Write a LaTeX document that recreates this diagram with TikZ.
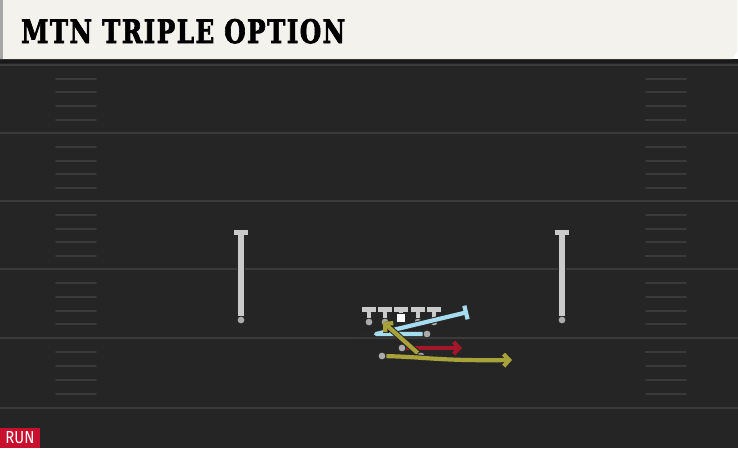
\documentclass[tikz,border=0pt]{standalone}
\usepackage{fontspec}
\usepackage{graphicx}
\usetikzlibrary{arrows.meta}
\newfontfamily\titlefont[BoldFeatures={FakeBold=2.5},LetterSpace=6]{DejaVu Serif}
\newfontfamily\tagfont{Fira Sans}
\definecolor{turf}{HTML}{252525}
\definecolor{paper}{HTML}{F4F2EC}
\definecolor{chalk}{HTML}{3A3A3A}
\definecolor{helmet}{HTML}{CACACA}
\definecolor{dotgray}{HTML}{ABABAB}
\definecolor{routeblue}{HTML}{A6DCEF}
\definecolor{routeyellow}{HTML}{A7A23A}
\definecolor{routered}{HTML}{A3172B}
\definecolor{runred}{HTML}{C8102E}

\begin{document}
\begin{tikzpicture}[x=1pt,y=-1pt]
      \tikzstyle{dot}=[circle,inner sep=0pt,minimum size=8pt,fill=dotgray,draw=black!85,line width=0.9pt]
      \tikzstyle{stem}=[line width=5.5pt,draw=helmet,preaction={draw=black!85,line width=7.5pt},-{Rectangle[length=4.5pt,width=14pt]}]
      \tikzstyle{route}=[line width=4.2pt,line join=round,preaction={draw=black!85,line width=6.2pt},-{Straight Barb[length=5.5pt,width=12pt]}]
      \tikzstyle{yard}=[draw=chalk,line width=1.8pt]
      \tikzstyle{hash}=[draw=chalk,line width=1.8pt,line cap=round]
      \useasboundingbox (0,0) rectangle (738,448);

      % field
      \fill[turf] (0,59) rectangle (738,448);
      \fill[black!90] (0,59) rectangle (738,63);
      \foreach \y in {65,133,201,269,338,408}
        \draw[yard] (0,\y) -- (738,\y);
      \foreach \y in {79,92,106,120,147,161,174,188,215,229,242,256,283,297,311,324,352,366,380,394}
        \draw[hash] (56,\y) -- (96,\y) (646,\y) -- (686,\y);

      % header
      \fill[paper] (0,0) -- (737,0) -- (737,52) -- (732,59) -- (0,59) -- cycle;
      \fill[gray!70] (0,0) rectangle (3,59);
      \node[anchor=base west,inner sep=0pt] (title) at (21,43) {\resizebox{324pt}{24pt}{\titlefont\bfseries MTN TRIPLE OPTION}};

      % receivers
      \node[dot] (wrl) at (241,320) {};
      \node[dot] (wrr) at (562,320) {};
      \draw[stem] (wrl) -- ++(0,-90);
      \draw[stem] (wrr) -- ++(0,-90);

      % line
      \node[dot] (lt) at (369,322) {};
      \node[dot] (lg) at (385,322) {};
      \node[draw=black!85,fill=white,inner sep=0pt,minimum size=9pt] (ctr) at (401,318) {};
      \node[dot] (rg) at (418,322) {};
      \node[dot] (rt) at (434,322) {};
      \draw[stem,line width=4.5pt] (lt) -- ++(0,-15);
      \draw[stem,line width=4.5pt] (lg) -- ++(0,-15);
      \draw[stem,line width=4.5pt] (ctr) -- ++(0,-11);
      \draw[stem,line width=4.5pt] (rg) -- ++(0,-15);
      \draw[stem,line width=4.5pt] (rt) -- ++(0,-15);

      % backs
      \node[dot] (qb) at (427,334) {};
      \node[dot] (fb) at (402,348) {};
      \node[dot] (tb) at (382,356) {};
      \node[dot] (hb) at (421,356) {};
      \coordinate (qbturn) at (376,334);
      \coordinate (qbblk) at (468,312);
      \coordinate (fbend) at (462,348);
      \coordinate (hbend) at (383,322);
      \coordinate (tbend) at (512,360);

      \draw[route,draw=routeblue,-{Bar[width=14pt]}] (qb) -- (qbturn) -- (qbblk);
      \draw[route,draw=routered] (fb) -- (fbend);
      \draw[route,draw=routeyellow] (hb) -- (hbend);
      \draw[route,draw=routeyellow] (tb) .. controls (425,357) and (440,361) .. (tbend);

      % tag
      \node[fill=runred,minimum width=40pt,minimum height=20pt,inner sep=0pt] (run) at (20,438) {\resizebox{29pt}{12pt}{\color{white}\tagfont RUN}};
\end{tikzpicture}
\end{document}
